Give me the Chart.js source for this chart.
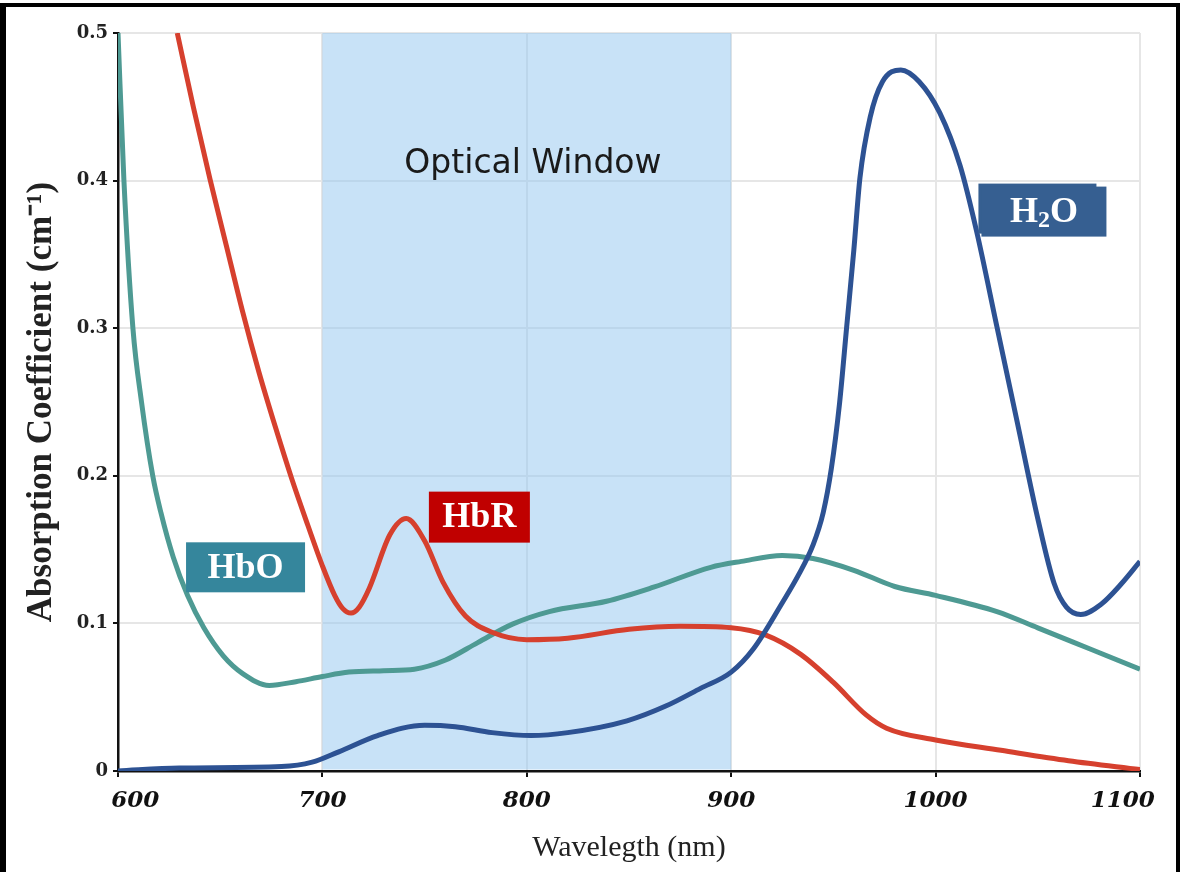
<!DOCTYPE html>
<html><head><meta charset="utf-8">
<script src="https://cdn.jsdelivr.net/npm/chart.js@4.4.1/dist/chart.umd.min.js"></script>
<style>
html,body{margin:0;padding:0;background:#fff;}
#wrap{position:relative;width:1182px;height:872px;overflow:hidden;background:#fff;}
#frame{position:absolute;left:0;top:3px;width:1170px;height:900px;border-left:6px solid #000;border-top:4px solid #000;border-right:4px solid #000;pointer-events:none;}
canvas{position:absolute;left:0;top:0;}
</style></head><body>
<div id="wrap"><canvas id="c" width="1182" height="872"></canvas><div id="frame"></div></div>
<script>
// ---- data ----
const xTickValues = [600, 700, 800, 900, 1000, 1100];
const xTickLabels = ['\u2002\u2002\u2002600', '700', '800', '900', '1000', '1100\u2002\u2002\u2002'];
const yTickValues = [0, 0.1, 0.2, 0.3, 0.4, 0.5];
const yTickLabels = ['0', '0.1', '0.2', '0.3', '0.4', '0.5'];

const hboWavelengths = [600, 602.9, 607.3, 611.5, 617, 621, 627, 634, 642, 651.5, 661, 674, 687, 700, 713, 730, 745, 760, 776, 793, 811, 839, 862, 890, 905, 925, 940, 960, 980, 1000, 1030, 1050, 1075, 1100];
const hboValues      = [0.5, 0.4, 0.3, 0.25, 0.2, 0.175, 0.145, 0.119, 0.097, 0.078, 0.066, 0.058, 0.0605, 0.064, 0.067, 0.068, 0.069, 0.075, 0.087, 0.0995, 0.108, 0.115, 0.1245, 0.138, 0.142, 0.146, 0.144, 0.136, 0.125, 0.119, 0.108, 0.097, 0.083, 0.069];

const hbrWavelengths = [629, 637, 645, 653, 661, 669, 677, 685, 693, 700, 706, 710, 714, 718, 723, 733, 741, 750, 759, 770, 783, 800, 820, 850, 875, 900, 917, 934, 950, 966, 976, 1000, 1032, 1065, 1100];
const hbrValues      = [0.5, 0.449, 0.401, 0.356, 0.311, 0.270, 0.233, 0.198, 0.166, 0.139, 0.119, 0.110, 0.107, 0.111, 0.124, 0.16, 0.171, 0.156, 0.128, 0.105, 0.094, 0.089, 0.090, 0.096, 0.098, 0.097, 0.092, 0.079, 0.060, 0.038, 0.029, 0.021, 0.014, 0.007, 0.001];

const h2oWavelengths = [600, 630, 680, 695, 708, 727, 750, 765, 783, 802, 820, 849, 868, 885, 900, 911, 925, 933, 940, 945, 949, 953, 956.5, 960, 963, 968, 974, 983, 992, 1002, 1012, 1020, 1030, 1040, 1050, 1058, 1064, 1071, 1081, 1091, 1100];
const h2oValues      = [0.0, 0.002, 0.003, 0.006, 0.013, 0.024, 0.031, 0.030, 0.026, 0.024, 0.026, 0.034, 0.044, 0.056, 0.067, 0.083, 0.114, 0.133, 0.153, 0.175, 0.205, 0.249, 0.301, 0.353, 0.402, 0.443, 0.467, 0.475, 0.467, 0.446, 0.41, 0.366, 0.301, 0.236, 0.171, 0.127, 0.111, 0.106, 0.113, 0.127, 0.142];

const windowRange = [700, 900];

// ---- annotation settings (anchors in data units) ----
const boxLabels = [
  { parts: [{t: 'HbO'}], x: 662.4, y: 0.138, w: 119, h: 50, bg: '#35869c' },
  { parts: [{t: 'HbR'}], x: 776.8, y: 0.172, w: 101, h: 51, bg: '#c00000' },
  { parts: [{t: 'H'}, {t: '2', sub: true}, {t: 'O'}], x: 1053, y: 0.379, w: 125, h: 50, bg: '#365f91', shadow: true }
];
const windowTitle = { text: 'Optical Window', x: 803, y: 0.411 };

const toPoints = (xs, ys) => xs.map((x, i) => ({x: x, y: ys[i]}));

const bandPlugin = {
  id: 'band',
  beforeDatasetsDraw(chart) {
    const {ctx, chartArea: a, scales: {x}} = chart;
    const x0 = x.getPixelForValue(windowRange[0]);
    const x1 = x.getPixelForValue(windowRange[1]);
    ctx.save();
    ctx.fillStyle = 'rgba(146,198,240,0.5)';
    ctx.fillRect(x0, a.top, x1 - x0, a.bottom - a.top - 1.5);
    ctx.restore();
  }
};

const labelPlugin = {
  id: 'labels',
  afterDatasetsDraw(chart) {
    const {ctx, scales: {x, y}} = chart;
    ctx.save();
    ctx.font = '33px "DejaVu Sans"';
    ctx.fillStyle = '#1a1a1a';
    ctx.textAlign = 'center';
    ctx.textBaseline = 'middle';
    ctx.fillText(windowTitle.text, x.getPixelForValue(windowTitle.x), y.getPixelForValue(windowTitle.y));
    boxLabels.forEach(b => {
      const cx = x.getPixelForValue(b.x), cy = y.getPixelForValue(b.y);
      ctx.fillStyle = b.bg;
      if (b.shadow) {
        ctx.fillRect(cx - b.w / 2 - 3, cy - b.h / 2 - 3, b.w - 7, b.h);
      }
      ctx.fillRect(cx - b.w / 2, cy - b.h / 2, b.w, b.h);
      const big = 'bold 36px "Liberation Serif"', small = 'bold 24px "Liberation Serif"';
      let total = 0;
      b.parts.forEach(p => { ctx.font = p.sub ? small : big; p.wd = ctx.measureText(p.t).width; total += p.wd; });
      let px = cx - total / 2;
      ctx.fillStyle = '#ffffff';
      ctx.textAlign = 'left';
      ctx.textBaseline = 'middle';
      b.parts.forEach(p => {
        ctx.font = p.sub ? small : big;
        ctx.fillText(p.t, px, cy + (p.sub ? 9 : 1));
        px += p.wd;
      });
    });
    ctx.restore();
  }
};

const lineStyle = { pointRadius: 0, borderWidth: 5, fill: false, cubicInterpolationMode: 'monotone' };

new Chart(document.getElementById('c'), {
  type: 'line',
  data: {
    datasets: [
      Object.assign({ label: 'H2O', data: toPoints(h2oWavelengths, h2oValues), borderColor: '#2d5293' }, lineStyle),
      Object.assign({ label: 'HbR', data: toPoints(hbrWavelengths, hbrValues), borderColor: '#d6402e' }, lineStyle),
      Object.assign({ label: 'HbO', data: toPoints(hboWavelengths, hboValues), borderColor: '#4e9a93' }, lineStyle)
    ]
  },
  options: {
    responsive: false,
    animation: false,
    devicePixelRatio: 1,
    layout: { padding: { top: 33, right: 42, bottom: 0, left: 0 } },
    plugins: { legend: { display: false }, tooltip: { enabled: false } },
    scales: {
      x: {
        type: 'linear', min: 600, max: 1100,
        afterBuildTicks: s => { s.ticks = xTickValues.map(v => ({value: v})); },
        afterFit: s => { s.height = 101; s.paddingLeft = 0; s.paddingRight = 0; },
        grid: { color: '#e6e6e6', lineWidth: 2, tickColor: '#111', tickLength: 6, tickWidth: 2 },
        border: { color: '#111', width: 2.5 },
        ticks: {
          font: { family: 'DejaVu Serif', size: 23, style: 'italic', weight: 'bold' },
          color: '#111', padding: 10, maxRotation: 0, autoSkip: false,
          callback: (v) => xTickLabels[xTickValues.indexOf(v)]
        },
        title: { display: true, text: 'Wavelegth (nm)', font: { family: 'Liberation Serif', size: 30 }, color: '#222', padding: { top: 0, bottom: 6 } }
      },
      y: {
        type: 'linear', min: 0, max: 0.5,
        afterBuildTicks: s => { s.ticks = yTickValues.map(v => ({value: v})); },
        afterFit: s => { s.width = 118; },
        grid: { color: '#e6e6e6', lineWidth: 2, tickColor: '#111', tickLength: 5, tickWidth: 2 },
        border: { color: '#111', width: 2.5 },
        ticks: {
          font: { family: 'DejaVu Serif', size: 18, weight: 'bold' },
          color: '#222', padding: 5,
          callback: (v) => yTickLabels[yTickValues.findIndex(t => Math.abs(t - v) < 1e-9)]
        },
        title: { display: true, text: 'Absorption Coefficient (cm\u207B\u00B9)', font: { family: 'Liberation Serif', size: 35, weight: 'bold' }, color: '#222', padding: { top: 21, bottom: 0 } }
      }
    }
  },
  plugins: [bandPlugin, labelPlugin]
});
</script>
</body></html>
